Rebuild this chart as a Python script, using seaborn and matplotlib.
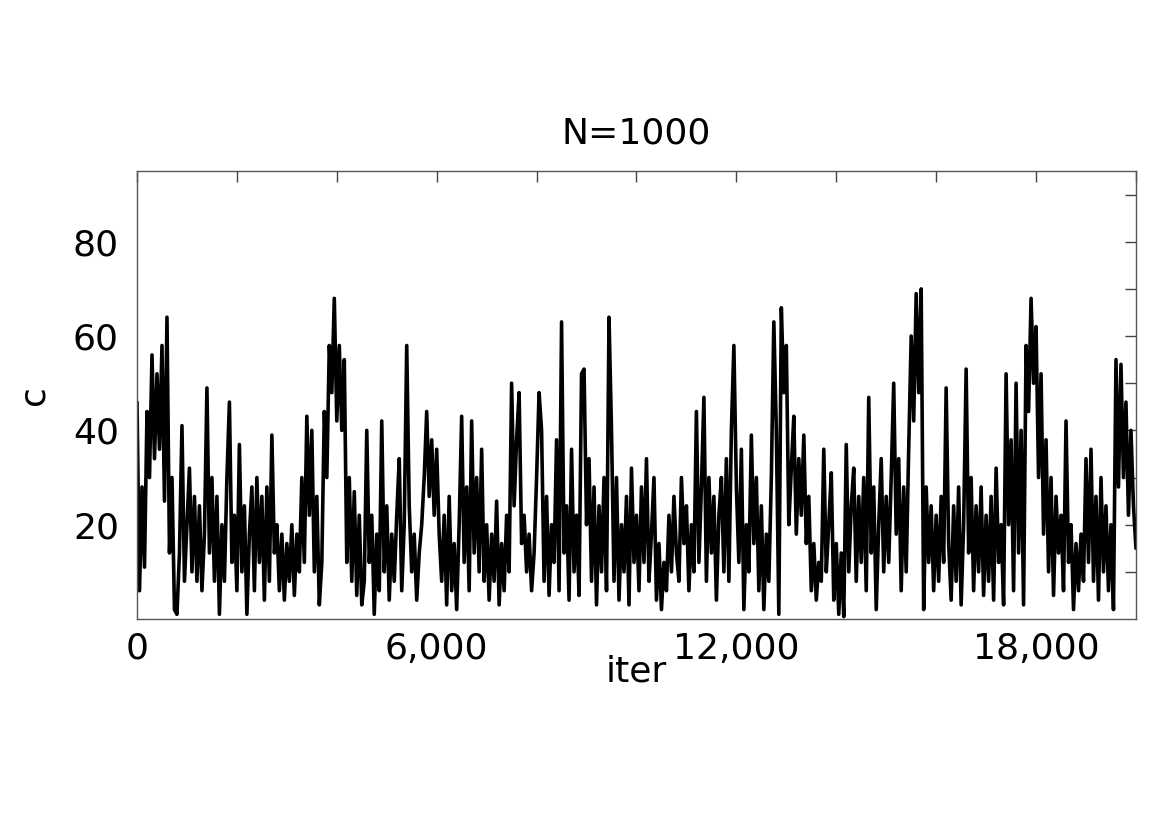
import numpy as np
import pandas as pd
import seaborn as sns
import matplotlib
matplotlib.use("Agg")
import matplotlib.pyplot as plt

# trace of c, one value every 50 iterations
step = 50
c_0 = [46, 6, 28, 11, 44, 30, 56, 34, 52, 36, 58, 25, 64, 14, 30, 2, 1, 14, 41, 8]
c_1 = [20, 32, 10, 26, 8, 24, 6, 18, 49, 14, 30, 8, 26, 1, 20, 8, 30, 46, 12, 22]
c_2 = [6, 37, 10, 24, 1, 18, 28, 6, 30, 12, 26, 4, 28, 8, 39, 14, 20, 6, 18, 4]
c_3 = [16, 8, 20, 5, 18, 10, 30, 12, 43, 22, 40, 10, 26, 3, 12, 44, 30, 58, 48, 68]
c_4 = [42, 58, 40, 55, 12, 30, 8, 27, 5, 22, 3, 8, 40, 12, 22, 1, 18, 6, 42, 10]
c_5 = [24, 4, 18, 8, 22, 34, 6, 20, 58, 24, 10, 18, 4, 14, 20, 30, 44, 26, 38, 22]
c_6 = [36, 18, 8, 22, 3, 26, 6, 16, 2, 20, 43, 12, 28, 6, 42, 14, 30, 10, 36, 8]
c_7 = [20, 4, 18, 8, 25, 3, 16, 6, 22, 10, 50, 24, 38, 48, 16, 22, 10, 18, 6, 14]
c_8 = [30, 48, 40, 8, 26, 5, 20, 12, 38, 6, 63, 14, 24, 4, 36, 10, 22, 5, 52, 53]
c_9 = [20, 34, 8, 28, 3, 24, 10, 30, 6, 64, 40, 8, 30, 4, 20, 10, 26, 3, 32, 12]
c_10 = [22, 6, 28, 12, 34, 8, 18, 30, 4, 16, 2, 12, 6, 22, 10, 26, 14, 8, 30, 16]
c_11 = [24, 6, 20, 10, 44, 12, 28, 47, 8, 30, 14, 26, 4, 22, 30, 10, 34, 8, 40, 58]
c_12 = [28, 12, 36, 2, 20, 10, 39, 16, 30, 6, 24, 2, 18, 8, 30, 63, 40, 1, 66, 48]
c_13 = [58, 20, 32, 43, 18, 34, 22, 39, 16, 26, 6, 16, 4, 12, 8, 36, 10, 20, 31, 4]
c_14 = [16, 1, 14, 0.5, 37, 10, 24, 32, 8, 26, 12, 30, 6, 47, 14, 28, 2, 20, 34, 10]
c_15 = [26, 12, 30, 50, 18, 34, 6, 28, 10, 36, 60, 42, 69, 48, 70, 2, 28, 12, 24, 6]
c_16 = [22, 8, 26, 12, 49, 16, 4, 24, 8, 28, 3, 20, 53, 14, 30, 6, 24, 10, 28, 5]
c_17 = [22, 8, 26, 4, 32, 12, 20, 3, 52, 20, 38, 6, 50, 14, 40, 3, 58, 44, 68, 50]
c_18 = [62, 30, 52, 18, 38, 10, 30, 5, 26, 14, 22, 6, 42, 12, 20, 2, 16, 6, 18, 8]
c_19 = [34, 12, 36, 8, 26, 4, 30, 10, 24, 6, 20, 2, 55, 28, 54, 30, 46, 22, 40, 24, 15]

x_ticks = list(range(0, 20001, 2000))
x_labels = ["0", "", "", "6,000", "", "", "12,000", "", "", "18,000", ""]
y_ticks = list(range(10, 91, 10))
y_labels = ["", "20", "", "40", "", "60", "", "80", ""]

c = (c_0 + c_1 + c_2 + c_3 + c_4 + c_5 + c_6 + c_7 + c_8 + c_9
     + c_10 + c_11 + c_12 + c_13 + c_14 + c_15 + c_16 + c_17 + c_18 + c_19)
df = pd.DataFrame({"iter": np.arange(len(c)) * step, "c": c})

sns.set_style("white")
plt.rcParams["font.family"] = ["DejaVu Sans"]
plt.rcParams["text.color"] = "black"
plt.rcParams["axes.labelcolor"] = "black"

fig = plt.figure(figsize=(11.7, 8.27), dpi=100)
ax = fig.add_axes([0.1171, 0.2515, 0.8538, 0.5417])
sns.lineplot(data=df, x="iter", y="c", color="black", linewidth=2.6, ax=ax)

ax.set_xlim(0, 20000)
ax.set_ylim(0, 95)
ax.set_xticks(x_ticks)
ax.set_xticklabels(x_labels)
ax.set_yticks(y_ticks)
ax.set_yticklabels(y_labels)
ax.tick_params(direction="in", length=8, width=1, colors="#444444",
               top=True, right=True, labelsize=26, labelcolor="black")
ax.tick_params(axis="x", pad=9)
ax.tick_params(axis="y", pad=13)
for s in ax.spines.values():
    s.set_color("#555555")
    s.set_linewidth(1)

ax.set_title("N=1000", fontsize=26, pad=20, color="black")
ax.set_xlabel("iter", fontsize=26, labelpad=-8)
ax.set_ylabel("c", fontsize=26, labelpad=16)

fig.savefig("out.png", dpi=100)
